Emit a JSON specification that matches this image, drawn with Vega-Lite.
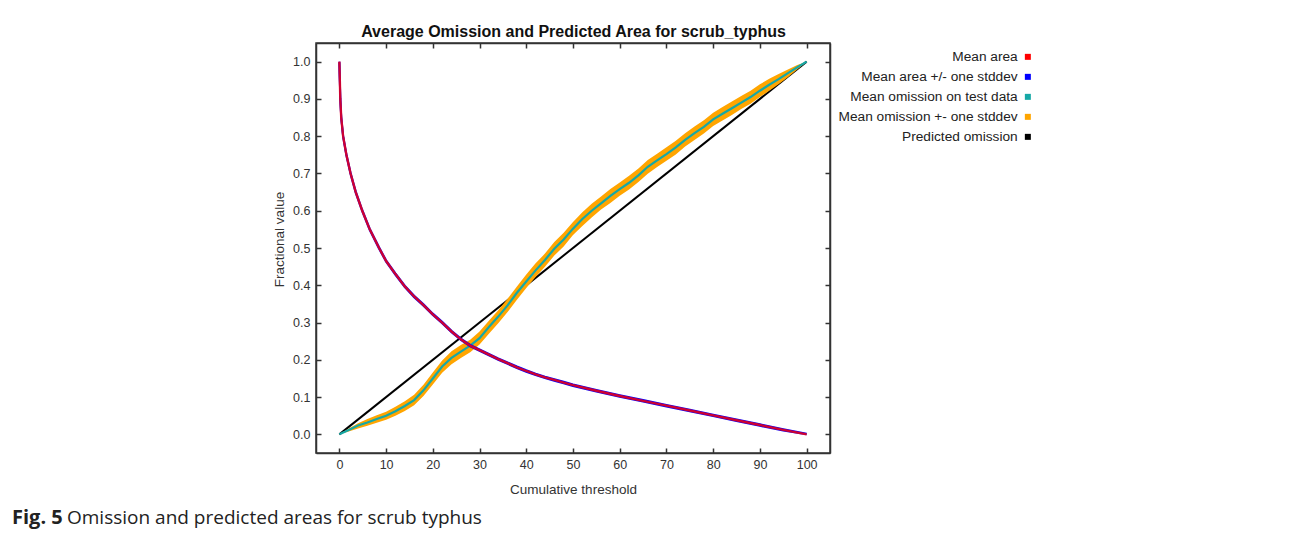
{
  "$schema": "https://vega.github.io/schema/vega-lite/v6.json",
  "width": 514,
  "height": 410,
  "padding": {"left": 12, "top": 23, "right": 0, "bottom": 14},
  "background": "white",
  "datasets": {
    "area": [
      {"x": 0, "m": 1.0, "lo": 0.998, "hi": 1.0},
      {"x": 0.1, "m": 0.95, "lo": 0.948, "hi": 0.952},
      {"x": 0.2, "m": 0.90, "lo": 0.898, "hi": 0.902},
      {"x": 0.4, "m": 0.85, "lo": 0.848, "hi": 0.852},
      {"x": 0.8, "m": 0.80, "lo": 0.798, "hi": 0.802},
      {"x": 1.5, "m": 0.75, "lo": 0.748, "hi": 0.752},
      {"x": 2.4, "m": 0.70, "lo": 0.698, "hi": 0.702},
      {"x": 3.5, "m": 0.65, "lo": 0.648, "hi": 0.652},
      {"x": 4.9, "m": 0.60, "lo": 0.598, "hi": 0.602},
      {"x": 6.5, "m": 0.55, "lo": 0.548, "hi": 0.552},
      {"x": 8.5, "m": 0.50, "lo": 0.498, "hi": 0.502},
      {"x": 10, "m": 0.465, "lo": 0.463, "hi": 0.467},
      {"x": 12, "m": 0.430, "lo": 0.428, "hi": 0.432},
      {"x": 14, "m": 0.397, "lo": 0.395, "hi": 0.399},
      {"x": 16, "m": 0.370, "lo": 0.368, "hi": 0.372},
      {"x": 18, "m": 0.347, "lo": 0.345, "hi": 0.349},
      {"x": 20, "m": 0.322, "lo": 0.320, "hi": 0.324},
      {"x": 22, "m": 0.300, "lo": 0.298, "hi": 0.302},
      {"x": 24, "m": 0.276, "lo": 0.274, "hi": 0.278},
      {"x": 26, "m": 0.255, "lo": 0.253, "hi": 0.257},
      {"x": 28, "m": 0.238, "lo": 0.236, "hi": 0.240},
      {"x": 30, "m": 0.226, "lo": 0.224, "hi": 0.228},
      {"x": 32, "m": 0.214, "lo": 0.212, "hi": 0.216},
      {"x": 34, "m": 0.202, "lo": 0.200, "hi": 0.204},
      {"x": 36, "m": 0.191, "lo": 0.189, "hi": 0.193},
      {"x": 38, "m": 0.180, "lo": 0.178, "hi": 0.182},
      {"x": 40, "m": 0.170, "lo": 0.168, "hi": 0.172},
      {"x": 42, "m": 0.161, "lo": 0.159, "hi": 0.163},
      {"x": 44, "m": 0.153, "lo": 0.151, "hi": 0.155},
      {"x": 46, "m": 0.146, "lo": 0.144, "hi": 0.148},
      {"x": 48, "m": 0.139, "lo": 0.137, "hi": 0.141},
      {"x": 50, "m": 0.132, "lo": 0.130, "hi": 0.134},
      {"x": 55, "m": 0.117, "lo": 0.115, "hi": 0.119},
      {"x": 60, "m": 0.103, "lo": 0.101, "hi": 0.105},
      {"x": 65, "m": 0.090, "lo": 0.088, "hi": 0.092},
      {"x": 70, "m": 0.077, "lo": 0.075, "hi": 0.079},
      {"x": 75, "m": 0.064, "lo": 0.062, "hi": 0.066},
      {"x": 80, "m": 0.051, "lo": 0.049, "hi": 0.053},
      {"x": 85, "m": 0.038, "lo": 0.036, "hi": 0.040},
      {"x": 90, "m": 0.025, "lo": 0.023, "hi": 0.027},
      {"x": 95, "m": 0.012, "lo": 0.010, "hi": 0.014},
      {"x": 100, "m": 0.0, "lo": 0.0, "hi": 0.002}
    ],
    "omission": [
      {"x": 0, "m": 0, "lo": 0, "hi": 0},
      {"x": 2, "m": 0.012, "lo": 0.008, "hi": 0.016},
      {"x": 4, "m": 0.024, "lo": 0.016, "hi": 0.030},
      {"x": 6, "m": 0.032, "lo": 0.023, "hi": 0.041},
      {"x": 8, "m": 0.041, "lo": 0.031, "hi": 0.051},
      {"x": 10, "m": 0.050, "lo": 0.039, "hi": 0.061},
      {"x": 12, "m": 0.062, "lo": 0.050, "hi": 0.074},
      {"x": 14, "m": 0.076, "lo": 0.063, "hi": 0.089},
      {"x": 16, "m": 0.092, "lo": 0.078, "hi": 0.106},
      {"x": 18, "m": 0.118, "lo": 0.103, "hi": 0.133},
      {"x": 20, "m": 0.150, "lo": 0.134, "hi": 0.166},
      {"x": 22, "m": 0.182, "lo": 0.165, "hi": 0.198},
      {"x": 24, "m": 0.205, "lo": 0.188, "hi": 0.223},
      {"x": 26, "m": 0.222, "lo": 0.205, "hi": 0.240},
      {"x": 28, "m": 0.238, "lo": 0.220, "hi": 0.254},
      {"x": 30, "m": 0.258, "lo": 0.241, "hi": 0.276},
      {"x": 32, "m": 0.288, "lo": 0.270, "hi": 0.305},
      {"x": 34, "m": 0.316, "lo": 0.298, "hi": 0.333},
      {"x": 36, "m": 0.346, "lo": 0.328, "hi": 0.364},
      {"x": 38, "m": 0.380, "lo": 0.361, "hi": 0.397},
      {"x": 40, "m": 0.410, "lo": 0.393, "hi": 0.429},
      {"x": 42, "m": 0.440, "lo": 0.422, "hi": 0.459},
      {"x": 44, "m": 0.468, "lo": 0.450, "hi": 0.485},
      {"x": 46, "m": 0.498, "lo": 0.480, "hi": 0.516},
      {"x": 48, "m": 0.523, "lo": 0.504, "hi": 0.541},
      {"x": 50, "m": 0.552, "lo": 0.535, "hi": 0.570},
      {"x": 52, "m": 0.578, "lo": 0.559, "hi": 0.596},
      {"x": 54, "m": 0.600, "lo": 0.582, "hi": 0.619},
      {"x": 56, "m": 0.620, "lo": 0.603, "hi": 0.638},
      {"x": 58, "m": 0.640, "lo": 0.621, "hi": 0.658},
      {"x": 60, "m": 0.658, "lo": 0.640, "hi": 0.676},
      {"x": 62, "m": 0.675, "lo": 0.657, "hi": 0.694},
      {"x": 64, "m": 0.695, "lo": 0.677, "hi": 0.713},
      {"x": 66, "m": 0.718, "lo": 0.699, "hi": 0.736},
      {"x": 68, "m": 0.735, "lo": 0.717, "hi": 0.753},
      {"x": 70, "m": 0.752, "lo": 0.734, "hi": 0.770},
      {"x": 72, "m": 0.770, "lo": 0.751, "hi": 0.788},
      {"x": 74, "m": 0.790, "lo": 0.772, "hi": 0.808},
      {"x": 76, "m": 0.808, "lo": 0.790, "hi": 0.826},
      {"x": 78, "m": 0.825, "lo": 0.807, "hi": 0.843},
      {"x": 80, "m": 0.845, "lo": 0.827, "hi": 0.863},
      {"x": 82, "m": 0.860, "lo": 0.842, "hi": 0.878},
      {"x": 84, "m": 0.875, "lo": 0.857, "hi": 0.893},
      {"x": 86, "m": 0.890, "lo": 0.873, "hi": 0.908},
      {"x": 88, "m": 0.905, "lo": 0.887, "hi": 0.922},
      {"x": 90, "m": 0.922, "lo": 0.905, "hi": 0.939},
      {"x": 92, "m": 0.938, "lo": 0.922, "hi": 0.954},
      {"x": 94, "m": 0.953, "lo": 0.939, "hi": 0.967},
      {"x": 96, "m": 0.969, "lo": 0.958, "hi": 0.979},
      {"x": 98, "m": 0.985, "lo": 0.979, "hi": 0.991},
      {"x": 100, "m": 1.0, "lo": 1.0, "hi": 1.0}
    ],
    "predicted": [
      {"x": 0, "m": 0},
      {"x": 100, "m": 1}
    ]
  },
  "title": {
    "text": "Fig. 5",
    "subtitle": "Omission and predicted areas for scrub typhus",
    "orient": "bottom",
    "anchor": "start",
    "frame": "group",
    "dx": -304,
    "offset": 12,
    "font": "Open Sans",
    "fontSize": 20,
    "fontWeight": "bold",
    "color": "#222222",
    "subtitleFont": "Open Sans",
    "subtitleFontSize": 19,
    "subtitleFontWeight": "normal",
    "subtitleColor": "#222222",
    "subtitlePadding": -19,
    "encode": {"subtitle": {"update": {"dx": {"value": -249}}}}
  },
  "config": {
    "view": {"stroke": "#333333", "strokeWidth": 1.5},
    "axis": {
      "labelFont": "Liberation Sans",
      "labelFontSize": 12.5,
      "labelColor": "#333333",
      "titleFont": "Liberation Sans",
      "titleFontSize": 13.5,
      "titleFontWeight": "normal",
      "titleColor": "#333333",
      "gridColor": "#cccccc",
      "gridWidth": 1.5,
      "gridOpacity": 1,
      "tickColor": "#333333",
      "tickWidth": 1.5,
      "tickSize": -5,
      "domainColor": "#333333",
      "domainWidth": 1.5
    }
  },
  "layer": [
    {
      "data": {"name": "predicted"},
      "mark": {"type": "line", "strokeWidth": 2},
      "encoding": {
        "x": {"field": "x", "type": "quantitative", "scale": {"domain": [-5, 105], "nice": false, "zero": false},
              "axis": {"orient": "top", "labels": false, "grid": false, "values": [0,10,20,30,40,50,60,70,80,90,100],
                       "title": "Average Omission and Predicted Area for scrub_typhus", "titleFontSize": 16, "titleFontWeight": "bold", "titleColor": "#111111", "titlePadding": 3}},
        "y": {"field": "m", "type": "quantitative", "scale": {"domain": [-0.05, 1.05], "nice": false, "zero": false},
              "axis": {"orient": "right", "labels": false, "grid": false, "title": null, "values": [0,0.1,0.2,0.3,0.4,0.5,0.6,0.7,0.8,0.9,1.0]}},
        "color": {
          "datum": "Predicted omission",
          "type": "nominal",
          "scale": {
            "domain": ["Mean area", "Mean area +/- one stddev", "Mean omission on test data", "Mean omission +- one stddev", "Predicted omission"],
            "range": ["#ff0000", "#0000ff", "#16a8a6", "#ffa500", "#000000"]
          },
          "legend": {
            "orient": "none",
            "legendX": 705,
            "legendY": 7,
            "title": null,
            "labelAlign": "right",
            "labelOffset": -17,
            "labelLimit": 400,
            "symbolType": "square",
            "symbolSize": 36,
            "symbolStrokeWidth": 0,
            "labelFont": "Liberation Sans",
            "labelFontSize": 13.7,
            "labelColor": "#222222",
            "rowPadding": 5,
            "encode": {
              "symbols": {"update": {"fill": {"scale": "color", "field": "value"}, "stroke": {"value": "transparent"}, "opacity": {"value": 1}}}
            }
          }
        }
      }
    },
    {
      "layer": [
        {
          "data": {"name": "omission"},
          "mark": {"type": "area", "opacity": 1},
          "encoding": {
            "x": {"field": "x", "type": "quantitative", "scale": {"domain": [-5, 105], "nice": false, "zero": false},
                  "axis": {"orient": "bottom", "values": [0,10,20,30,40,50,60,70,80,90,100], "title": "Cumulative threshold", "labelPadding": 10, "titlePadding": 12}},
            "y": {"field": "lo", "type": "quantitative", "scale": {"domain": [-0.05, 1.05], "nice": false, "zero": false},
                  "axis": {"orient": "left", "values": [0,0.1,0.2,0.3,0.4,0.5,0.6,0.7,0.8,0.9,1.0], "format": ".1f", "title": "Fractional value", "labelPadding": 11, "titlePadding": 6, "titleY": 196}},
            "y2": {"field": "hi"},
            "color": {"datum": "Mean omission +- one stddev", "type": "nominal"}
          }
        },
        {
          "data": {"name": "omission"},
          "mark": {"type": "line", "strokeWidth": 2.2},
          "encoding": {
            "x": {"field": "x", "type": "quantitative"},
            "y": {"field": "m", "type": "quantitative"},
            "color": {"datum": "Mean omission on test data", "type": "nominal"}
          }
        },
        {
          "data": {"name": "area"},
          "mark": {"type": "line", "strokeWidth": 2},
          "encoding": {
            "x": {"field": "x", "type": "quantitative"},
            "y": {"field": "lo", "type": "quantitative"},
            "color": {"datum": "Mean area +/- one stddev", "type": "nominal"}
          }
        },
        {
          "data": {"name": "area"},
          "mark": {"type": "line", "strokeWidth": 2},
          "encoding": {
            "x": {"field": "x", "type": "quantitative"},
            "y": {"field": "hi", "type": "quantitative"},
            "color": {"datum": "Mean area +/- one stddev", "type": "nominal"}
          }
        },
        {
          "data": {"name": "area"},
          "mark": {"type": "line", "strokeWidth": 2.4, "opacity": 0.8},
          "encoding": {
            "x": {"field": "x", "type": "quantitative"},
            "y": {"field": "m", "type": "quantitative"},
            "color": {"datum": "Mean area", "type": "nominal"}
          }
        }
      ]
    }
  ],
  "resolve": {"axis": {"x": "independent", "y": "independent"}}
}
